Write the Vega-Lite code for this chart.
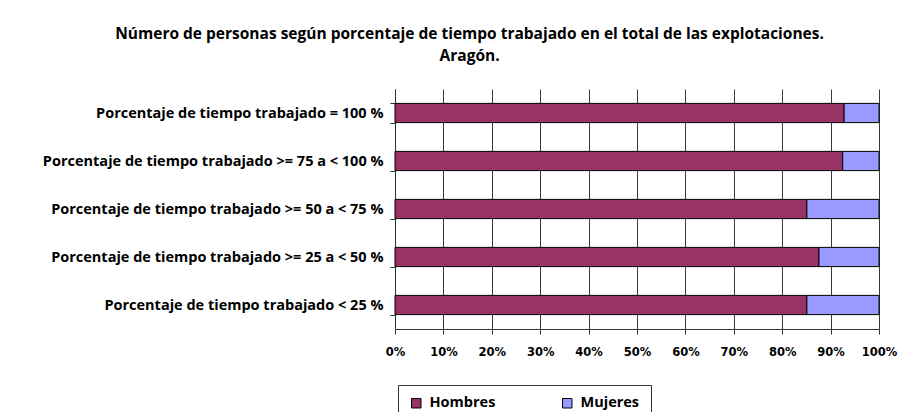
{
  "$schema": "https://vega.github.io/schema/vega-lite/v6.json",
  "autosize": "none",
  "width": 484,
  "height": 240,
  "padding": {"left": 395, "top": 89, "right": 33, "bottom": 83},
  "background": "white",
  "title": {
    "text": ["Número de personas según porcentaje de tiempo trabajado en el total de las explotaciones.", "Aragón."],
    "anchor": "middle",
    "frame": "bounds",
    "font": "Open Sans",
    "fontSize": 15.5,
    "fontWeight": "bold",
    "lineHeight": 22,
    "color": "black",
    "offset": 17,
    "dx": 0
  },
  "data": {
    "values": [
      {"cat": "Porcentaje de tiempo trabajado = 100 %", "sexo": "Hombres", "pct": 92.8, "o": 1},
      {"cat": "Porcentaje de tiempo trabajado = 100 %", "sexo": "Mujeres", "pct": 7.2, "o": 2},
      {"cat": "Porcentaje de tiempo trabajado >= 75 a < 100 %", "sexo": "Hombres", "pct": 92.5, "o": 1},
      {"cat": "Porcentaje de tiempo trabajado >= 75 a < 100 %", "sexo": "Mujeres", "pct": 7.5, "o": 2},
      {"cat": "Porcentaje de tiempo trabajado >= 50 a < 75 %", "sexo": "Hombres", "pct": 85.1, "o": 1},
      {"cat": "Porcentaje de tiempo trabajado >= 50 a < 75 %", "sexo": "Mujeres", "pct": 14.9, "o": 2},
      {"cat": "Porcentaje de tiempo trabajado >= 25 a < 50 %", "sexo": "Hombres", "pct": 87.6, "o": 1},
      {"cat": "Porcentaje de tiempo trabajado >= 25 a < 50 %", "sexo": "Mujeres", "pct": 12.4, "o": 2},
      {"cat": "Porcentaje de tiempo trabajado < 25 %", "sexo": "Hombres", "pct": 85.1, "o": 1},
      {"cat": "Porcentaje de tiempo trabajado < 25 %", "sexo": "Mujeres", "pct": 14.9, "o": 2}
    ]
  },
  "mark": {"type": "bar", "stroke": "black", "strokeWidth": 1},
  "encoding": {
    "y": {
      "field": "cat",
      "type": "nominal",
      "sort": null,
      "title": null,
      "scale": {"paddingInner": 0.6, "paddingOuter": 0.3},
      "axis": {
        "tickBand": "extent",
        "labelFont": "Open Sans",
        "labelFontSize": 14.5,
        "labelFontWeight": "bold",
        "labelColor": "black",
        "labelPadding": 7,
        "labelLimit": 400,
        "tickSize": 5,
        "tickColor": "#333333",
        "domainColor": "#333333",
        "grid": false
      }
    },
    "x": {
      "field": "pct",
      "type": "quantitative",
      "stack": "normalize",
      "title": null,
      "scale": {"domain": [0, 1], "nice": false},
      "axis": {
        "format": ".0%",
        "values": [0, 0.1, 0.2, 0.3, 0.4, 0.5, 0.6, 0.7, 0.8, 0.9, 1],
        "labelOverlap": false,
        "labelFlush": false,
        "labelFont": "DejaVu Sans",
        "labelFontSize": 11.5,
        "labelFontWeight": "bold",
        "labelColor": "black",
        "labelPadding": 12,
        "tickSize": 5,
        "tickColor": "#333333",
        "domainColor": "#333333",
        "grid": true,
        "gridColor": "#3a3a3a",
        "gridOpacity": 1
      }
    },
    "color": {
      "field": "sexo",
      "type": "nominal",
      "scale": {"domain": ["Hombres", "Mujeres"], "range": ["#993366", "#9999FF"]},
      "legend": {
        "title": null,
        "orient": "none",
        "legendX": 3,
        "legendY": 296,
        "direction": "horizontal",
        "symbolType": "square",
        "symbolSize": 90,
        "symbolStrokeColor": "black",
        "symbolStrokeWidth": 1,
        "symbolOpacity": 1,
        "labelFont": "Open Sans",
        "labelFontSize": 14.5,
        "labelFontWeight": "bold",
        "labelColor": "black",
        "labelOffset": 6,
        "columnPadding": 64,
        "padding": 11,
        "strokeColor": "#333333",
        "fillColor": "white"
      }
    },
    "order": {"field": "o", "type": "quantitative"}
  },
  "config": {
    "view": {"stroke": null}
  }
}
